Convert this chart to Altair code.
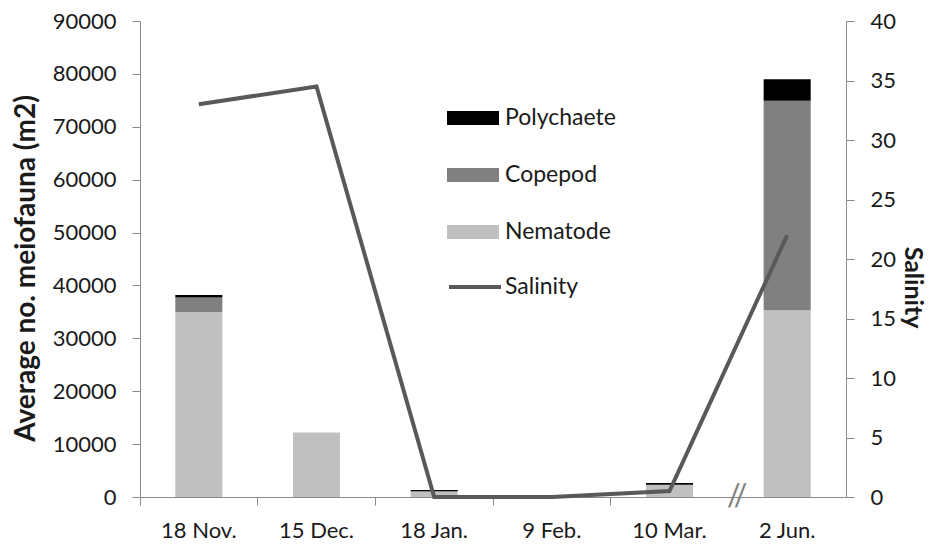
import altair as alt
import pandas as pd

# ---- data ----
dates = ["18 Nov.", "15 Dec.", "18 Jan.", "9 Feb.", "10 Mar.", "2 Jun."]
nematode = [35000, 12200, 1000, 0, 2300, 35300]
copepod = [2700, 0, 100, 0, 0, 39600]
polychaete = [500, 0, 200, 0, 350, 4100]
salinity = [33.0, 34.5, 0.0, 0.0, 0.5, 22.0]

groups = ["Polychaete", "Copepod", "Nematode"]
group_colors = ["#000000", "#808080", "#c0c0c0"]
left_ticks = [0, 10000, 20000, 30000, 40000, 50000, 60000, 70000, 80000, 90000]
right_ticks = [0, 5, 10, 15, 20, 25, 30, 35, 40]

rows = []
for i, d in enumerate(dates):
    for g, vals, order in [("Nematode", nematode, 0), ("Copepod", copepod, 1), ("Polychaete", polychaete, 2)]:
        rows.append({"date": d, "group": g, "count": vals[i], "order": order})
bars_df = pd.DataFrame(rows)
line_df = pd.DataFrame({"date": dates, "salinity": salinity, "series": ["Salinity"] * len(dates)})
brk_df = pd.DataFrame({"date": ["2 Jun."], "v": [0]})

FONT = "Lato"
TXT = "#1a1a1a"
AX = "#8a8a8a"

x_enc = alt.X(
    "date:N",
    sort=dates,
    scale=alt.Scale(domain=dates, paddingInner=0, paddingOuter=0),
    axis=alt.Axis(
        title=None,
        bandPosition=0,
        labelAngle=0,
        tickSize=8,
        labelPadding=15,
        labelFont=FONT,
        labelFontSize=22,
        labelColor=TXT,
        domainColor=AX,
        tickColor={"condition": {"test": "datum.value === '2 Jun.'", "value": "transparent"}, "value": AX},
    ),
)

bars = alt.Chart(bars_df).mark_bar(width={"band": 0.4}).encode(
    x=x_enc,
    y=alt.Y(
        "count:Q",
        stack="zero",
        scale=alt.Scale(domain=[0, 90000], nice=False),
        axis=alt.Axis(
            title="Average no. meiofauna (m2)",
            values=left_ticks,
            format="d",
            tickSize=8,
            labelPadding=16,
            labelFont=FONT,
            labelFontSize=22,
            labelColor=TXT,
            domainColor=AX,
            tickColor=AX,
            grid=False,
            titleFont=FONT,
            titleFontSize=28,
            titleFontWeight="bold",
            titleColor=TXT,
            titleAngle=-90,
            titleX=-106,
            titleY=247,
            titleAlign="center",
            titleBaseline="alphabetic",
        ),
    ),
    color=alt.Color(
        "group:N",
        scale=alt.Scale(domain=groups, range=group_colors),
        legend=alt.Legend(
            title=None,
            orient="none",
            legendX=307,
            legendY=71,
            symbolType="M-1,-0.27H1V0.27H-1Z",
            symbolSize=2704,
            symbolStrokeWidth=0,
            rowPadding=19,
            labelOffset=6,
            labelFont=FONT,
            labelFontSize=23,
            labelColor=TXT,
            padding=0,
        ),
    ),
    order=alt.Order("order:Q"),
)

brk = alt.Chart(brk_df).mark_text(
    text="//", fontSize=30, color="#808080", xOffset=-50, baseline="middle", font=FONT
).encode(
    x=alt.X("date:N", sort=dates, scale=alt.Scale(domain=dates)),
    y=alt.Y("v:Q", scale=alt.Scale(domain=[0, 40], nice=False), axis=None),
)

line = alt.Chart(line_df).mark_line(strokeWidth=4).encode(
    x=alt.X("date:N", sort=dates),
    y=alt.Y(
        "salinity:Q",
        scale=alt.Scale(domain=[0, 40], nice=False),
        axis=alt.Axis(
            title="Salinity",
            orient="right",
            values=right_ticks,
            tickSize=8,
            labelPadding=16,
            labelFont=FONT,
            labelFontSize=22,
            labelColor=TXT,
            domainColor=AX,
            tickColor=AX,
            grid=False,
            titleFont=FONT,
            titleFontSize=25,
            titleFontWeight="bold",
            titleColor=TXT,
            titleAngle=90,
            titleX=58,
            titleY=266,
            titleAlign="center",
            titleBaseline="alphabetic",
        ),
    ),
    stroke=alt.Stroke(
        "series:N",
        scale=alt.Scale(domain=["Salinity"], range=["#595959"]),
        legend=alt.Legend(
            title=None,
            orient="none",
            legendX=307,
            legendY=238,
            symbolType="M-1,0H1",
            symbolSize=2704,
            symbolStrokeWidth=4,
            labelOffset=2,
            labelFont=FONT,
            labelFontSize=23,
            labelColor=TXT,
            padding=0,
        ),
    ),
)

chart = (
    alt.layer(bars, brk, line)
    .resolve_scale(y="independent")
    .properties(
        width=706,
        height=476,
        autosize=alt.AutoSizeParams(type="none"),
        padding={"left": 132, "top": 13, "right": 83, "bottom": 48},
    )
    .configure(background="white", font=FONT)
    .configure_view(stroke=None)
)

chart.save("out.html", embed_options={"renderer": "svg", "actions": False})
